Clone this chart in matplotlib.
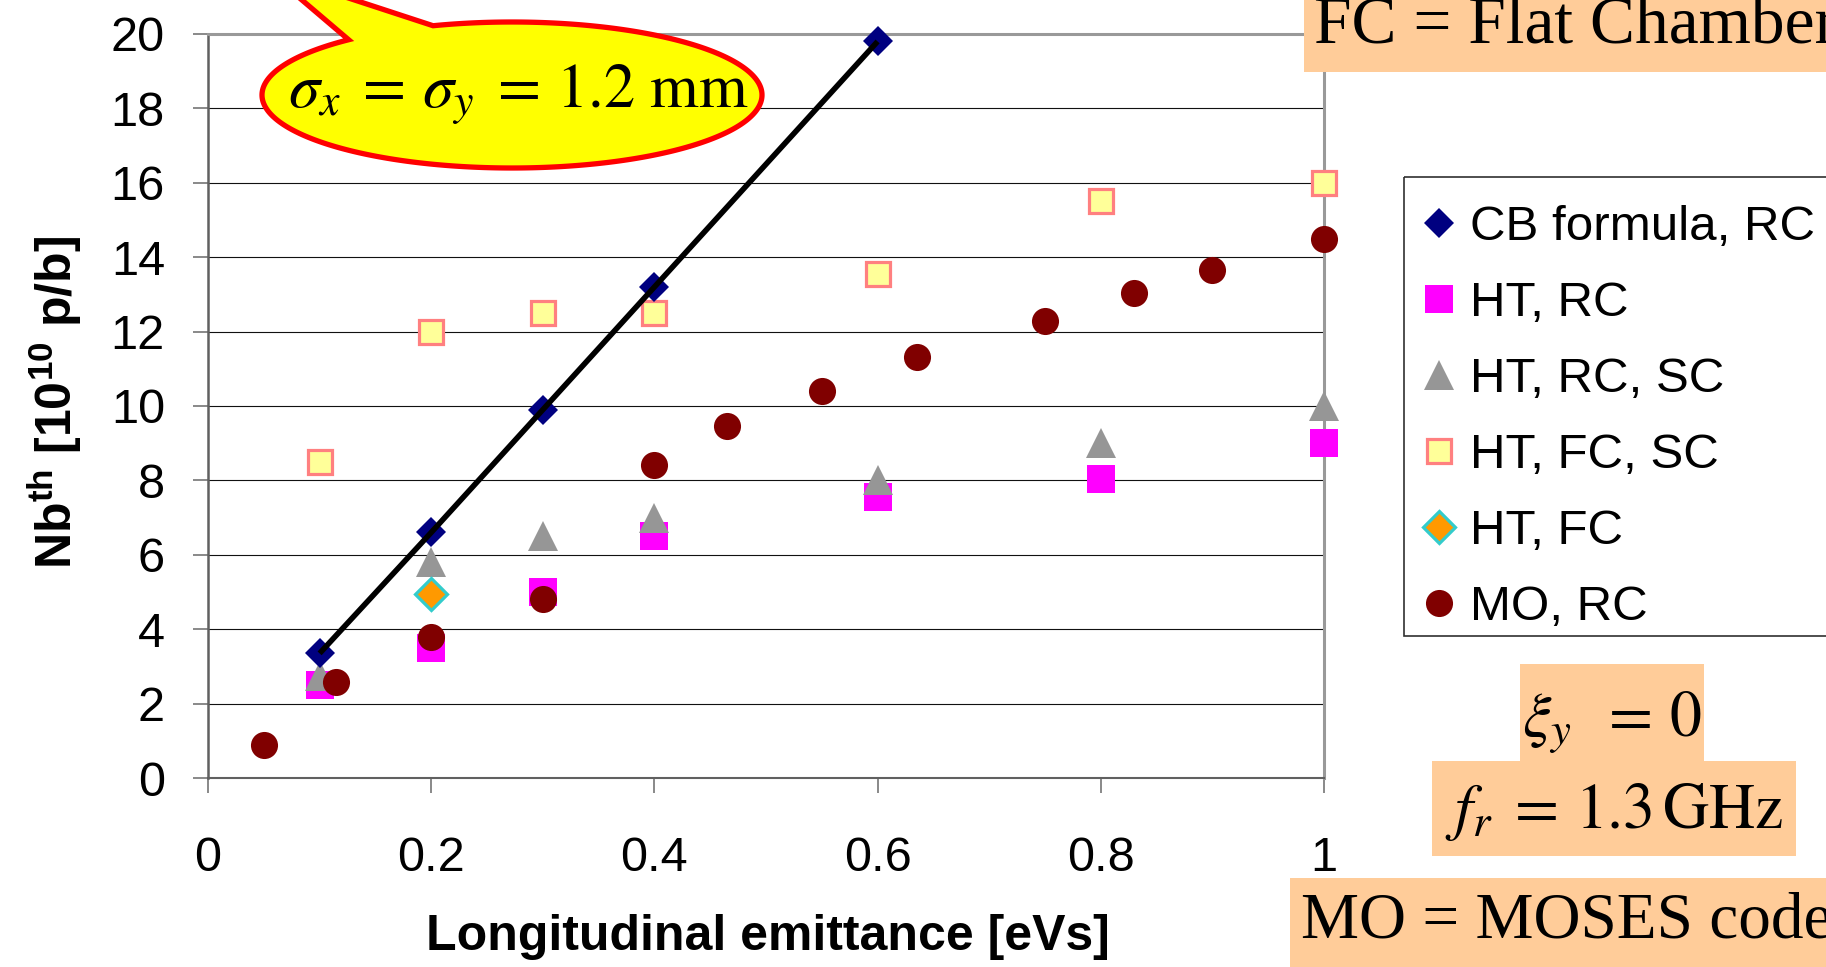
import numpy as np
import matplotlib
matplotlib.use("Agg")
import matplotlib.pyplot as plt
from matplotlib.patches import Polygon, Rectangle
from matplotlib.transforms import Affine2D
from matplotlib.lines import Line2D

plt.rcParams['font.family'] = ['Liberation Sans', 'DejaVu Sans']
plt.rcParams['mathtext.fontset'] = 'custom'
plt.rcParams['mathtext.rm'] = 'Liberation Sans'
plt.rcParams['mathtext.bf'] = 'Liberation Sans:bold'
plt.rcParams['mathtext.it'] = 'Liberation Sans:italic'

# ---- data -------------------------------------------------------------
cb_x = [0.1, 0.2, 0.3, 0.4, 0.6]
cb_y = [3.35, 6.6, 9.9, 13.2, 19.8]

ht_x = [0.1, 0.2, 0.3, 0.4, 0.6, 0.8, 1.0]
ht_rc = [2.5, 3.5, 5.0, 6.5, 7.55, 8.05, 9.0]
ht_rc_sc = [2.75, 5.8, 6.5, 7.0, 8.0, 9.0, 10.0]
ht_fc_sc = [8.5, 12.0, 12.5, 12.5, 13.55, 15.5, 16.0]

ht_fc_x = [0.2]
ht_fc_y = [4.95]

mo_x = [0.05, 0.115, 0.2, 0.3, 0.4, 0.465, 0.55, 0.635, 0.75, 0.83, 0.9, 1.0]
mo_y = [0.88, 2.58, 3.8, 4.82, 8.42, 9.45, 10.4, 11.32, 12.28, 13.05, 13.65, 14.5]

x_ticks = [0, 0.2, 0.4, 0.6, 0.8, 1]
x_tick_labels = ['0', '0.2', '0.4', '0.6', '0.8', '1']
y_ticks = list(range(0, 21, 2))

# ---- marker styles ----------------------------------------------------
sty_cb = dict(marker='D', ms=15.2, mfc='#000080', mec='#000080', mew=0)
sty_rc = dict(marker='s', ms=19.5, mfc='#FF00FF', mec='#FF00FF', mew=0)
sty_rcsc = dict(marker='^', ms=21.5, mfc='#969696', mec='#969696', mew=0)
sty_fcsc = dict(marker='s', ms=17.5, mfc='#FFFF99', mec='#FF8080', mew=2.3)
sty_fc = dict(marker='D', ms=16.5, mfc='#FF9900', mec='#33CCCC', mew=2.3)
sty_mo = dict(marker='o', ms=19.5, mfc='#800000', mec='#800000', mew=0)

# ---- figure -----------------------------------------------------------
W, H = 1826, 967
fig = plt.figure(figsize=(W / 100, H / 100), dpi=100)
# pixel coordinates measured from the top-left corner of the canvas
pix = Affine2D().scale(1 / W, -1 / H).translate(0, 1) + fig.transFigure

ax = fig.add_axes([208 / W, 1 - 778 / H, 1116 / W, 744 / H])
ax.set_xlim(0, 1)
ax.set_ylim(0, 20)

ax.set_yticks(y_ticks)
ax.set_xticks(x_ticks)
ax.set_xticklabels(x_tick_labels)
ax.yaxis.grid(True, color='#111111', lw=0.8)
ax.set_axisbelow(True)

ax.tick_params(axis='both', labelsize=35, direction='out', length=11,
               width=1.3, color='#808080')
ax.tick_params(axis='x', pad=31)
ax.tick_params(axis='y', pad=20)

ax.spines['left'].set_color('#606060')
ax.spines['left'].set_linewidth(1.8)
ax.spines['bottom'].set_color('#606060')
ax.spines['bottom'].set_linewidth(1.5)
for s in ('top', 'right'):
    ax.spines[s].set_color('#999999')
    ax.spines[s].set_linewidth(2.2)

ax.plot(ht_x, ht_rc, ls='none', clip_on=False, zorder=4, **sty_rc)
ax.plot(ht_x, ht_rc_sc, ls='none', clip_on=False, zorder=5, **sty_rcsc)
ax.plot(ht_x, ht_fc_sc, ls='none', clip_on=False, zorder=5, **sty_fcsc)
ax.plot(ht_fc_x, ht_fc_y, ls='none', clip_on=False, zorder=5, **sty_fc)
ax.plot(mo_x, mo_y, ls='none', clip_on=False, zorder=6, **sty_mo)
ax.plot(cb_x, cb_y, ls='none', clip_on=False, zorder=6, **sty_cb)
# linear trend through the coasting-beam formula points
ax.plot(cb_x, cb_y, color='black', lw=4.0, solid_capstyle='butt', zorder=7,
        clip_on=False)

# ---- axis titles ------------------------------------------------------
fig.text(768 / W, 1 - 937 / H, 'Longitudinal emittance [eVs]', fontsize=36,
         fontweight='bold', ha='center', va='center')
fig.text(55 / W, 1 - 402 / H,
         r'Nb$^{\mathbf{th}}$ [10$^{\mathbf{10}}$ p/b]', fontsize=36,
         fontweight='bold', rotation=90, ha='center', va='center',
         math_fontfamily='custom')

# ---- legend -----------------------------------------------------------
styles = [sty_cb, sty_rc, sty_rcsc, sty_fcsc, sty_fc, sty_mo]
labels = ['CB formula, RC', 'HT, RC', 'HT, RC, SC', 'HT, FC, SC', 'HT, FC', 'MO, RC']
handles = [Line2D([], [], ls='none', **s) for s in styles]
fig.patches.append(Rectangle((1404, 177), 460, 459, transform=pix, fill=False,
                             ec='#303030', lw=1.2, zorder=8))
fig.legend(handles, labels, loc='upper left',
           bbox_to_anchor=(1414 / W, 1 - 205 / H), bbox_transform=fig.transFigure,
           frameon=False, fontsize=35.5, borderpad=0, borderaxespad=0,
           handlelength=1.0, handletextpad=0.14, labelspacing=0.63, numpoints=1)

# ---- callout ----------------------------------------------------------
cx, cy, a, b = 512, 95, 250, 73
th = np.radians(np.linspace(130.8, 468.4, 400))
pts = np.column_stack([cx + a * np.cos(th), cy - b * np.sin(th)])
pts = np.vstack([pts, [[269, -28]]])
fig.patches.append(Polygon(pts, closed=True, transform=pix, fc='#FFFF00',
                           ec='#FF0000', lw=3.8, zorder=9, joinstyle='miter'))
fig.text(518 / W, 1 - 108 / H,
         r'$\sigma_x\;=\,\sigma_y\;=\,1.2\ \mathrm{mm}$',
         fontsize=45, ha='center', va='baseline', math_fontfamily='stix',
         zorder=10)

# ---- note boxes -------------------------------------------------------
peach = '#FFCC99'
serif = ['Liberation Serif', 'DejaVu Serif']
fig.patches.append(Rectangle((1304, -10), 600, 82, transform=pix, fc=peach,
                             ec='none', zorder=9))
fig.text(1314 / W, 1 - 43 / H, 'FC = Flat Chamber', fontsize=48.5, family=serif,
         ha='left', va='baseline', zorder=10)

fig.patches.append(Rectangle((1520, 664), 184, 97, transform=pix, fc=peach,
                             ec='none', zorder=9))
fig.text(1612 / W, 1 - 737 / H, r'$\xi_y\;\;=\,0$', fontsize=46, ha='center',
         va='baseline', math_fontfamily='stix', zorder=10)

fig.patches.append(Rectangle((1432, 761), 364, 95, transform=pix, fc=peach,
                             ec='none', zorder=9))
fig.text(1614 / W, 1 - 828 / H, r'$f_r\;=\,1.3\,\mathrm{GHz}$', fontsize=46,
         ha='center', va='baseline', math_fontfamily='stix', zorder=10)

fig.patches.append(Rectangle((1290, 878), 600, 100, transform=pix, fc=peach,
                             ec='none', zorder=9))
fig.text(1301 / W, 1 - 938 / H, 'MO = MOSES code', fontsize=47, family=serif,
         ha='left', va='baseline', zorder=10)

fig.savefig('out.png', dpi=100)
